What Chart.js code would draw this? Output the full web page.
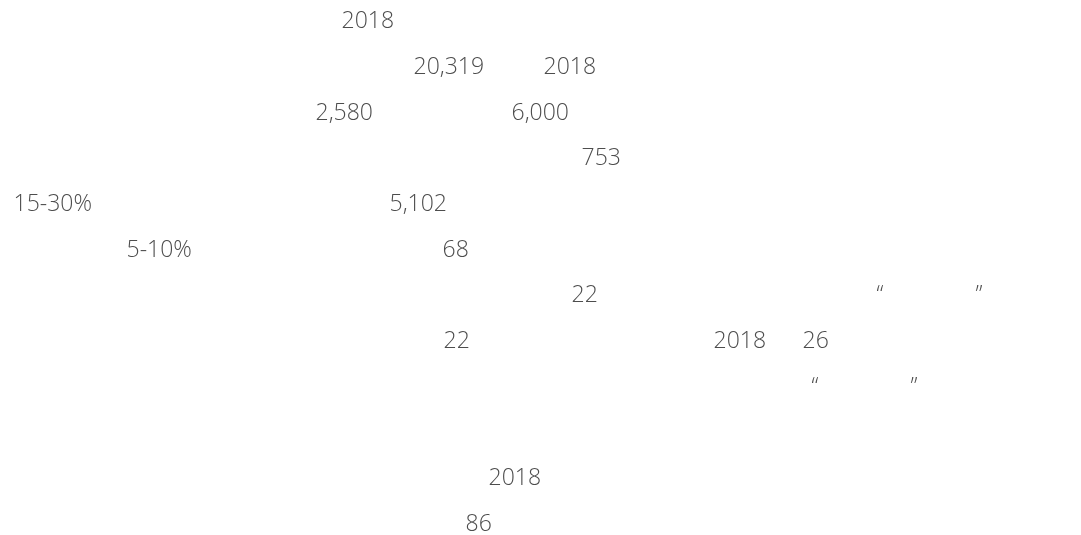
<!DOCTYPE html>
<html>
<head>
<meta charset="utf-8">
<script src="https://cdn.jsdelivr.net/npm/chart.js@4.4.0/dist/chart.umd.min.js"></script>
<style>
  html, body { margin: 0; padding: 0; background: #fff; }
  #wrap { width: 1081px; height: 535px; }
</style>
</head>
<body>
<div id="wrap"><canvas id="textChart" width="1081" height="535"></canvas></div>
<script>
// Only the Latin part of the page rendered (the CJK glyphs came out blank),
// so these are the visible fragments, the line they sit on and their column.
const fragments = ["2018", "20,319", "2018", "2,580", "6,000", "753", "15-30%", "5,102",
  "5-10%", "68", "22", "\u201c", "\u201d", "22", "2018", "26", "\u201c", "\u201d", "2018", "86"];
const lineNo = [0, 1, 1, 2, 2, 3, 4, 4, 5, 5, 6, 6, 6, 7, 7, 7, 8, 8, 10, 11];
const column = [343, 415, 545, 317, 513, 583, 15, 391, 128, 444, 573, 878, 977, 445, 715, 804, 813, 912, 490, 467];

const points = fragments.map((t, i) => ({ x: column[i], y: lineNo[i] }));

// draw each fragment at its point
const fragmentText = {
  id: "fragmentText",
  afterDatasetsDraw(chart) {
    const ctx = chart.ctx;
    const meta = chart.getDatasetMeta(0);
    ctx.save();
    ctx.font = "350 23px 'Open Sans'";
    ctx.fillStyle = "#4d4d4d";
    ctx.textAlign = "left";
    ctx.textBaseline = "alphabetic";
    meta.data.forEach((pt, i) => {
      ctx.fillText(fragments[i], pt.x - 1.5, pt.y + 8.2);
    });
    ctx.restore();
  }
};

const chart = new Chart(document.getElementById("textChart"), {
  type: "scatter",
  data: {
    datasets: [{
      data: points,
      pointRadius: 0,
      pointHoverRadius: 0
    }]
  },
  options: {
    responsive: false,
    animation: false,
    layout: { padding: 0 },
    plugins: {
      legend: { display: false },
      tooltip: { enabled: false }
    },
    scales: {
      x: { type: "linear", display: false, min: 0, max: 1081 },
      y: { type: "linear", display: false, reverse: true, min: -0.4376, max: 11.269 }
    }
  },
  plugins: [fragmentText]
});
</script>
</body>
</html>
